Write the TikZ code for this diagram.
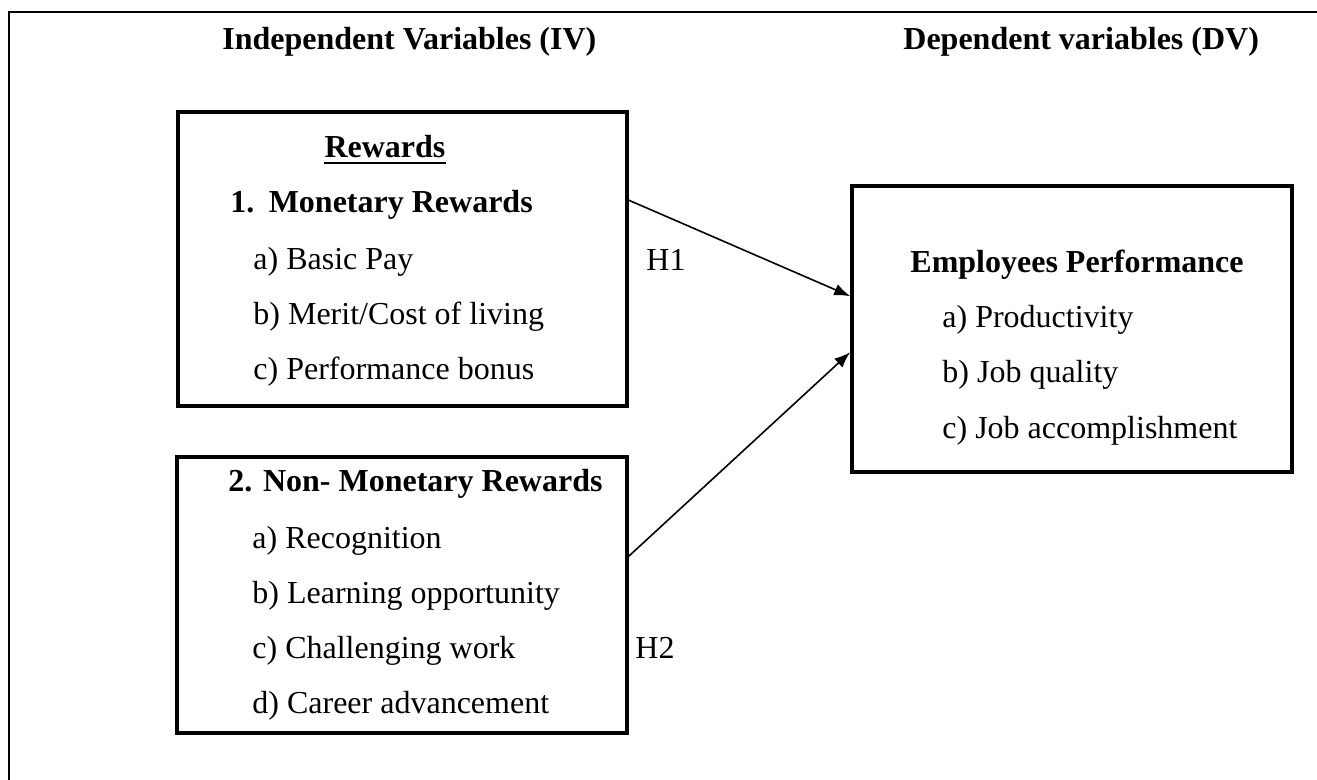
\documentclass[tikz,border=0pt]{standalone}
\usepackage{fontspec}
\setmainfont{Liberation Serif}
\usetikzlibrary{arrows.meta,calc}

\begin{document}
\begin{tikzpicture}[
  x=0.5pt, y=-0.5pt,
  every node/.style={font=\fontsize{16}{19}\selectfont, inner xsep=0pt, inner ysep=1pt},
  txt/.style={anchor=base west},
  hd/.style={anchor=base west, font=\fontsize{16}{19}\selectfont\bfseries},
  varbox/.style={draw, line width=1.8pt, rectangle, inner sep=0pt},
  link/.style={line width=0.8pt, -{Latex[length=8pt,width=6pt]}}
]
\useasboundingbox (0,0) rectangle (1317,780);

% outer frame (left and top edges)
\draw[line width=1pt] (9,780) -- (9,12) -- (1317,12);

% column headings
\node[hd] (ivhead) at (222,50) {Independent Variables (IV)};
\node[hd] (dvhead) at (903,50) {Dependent variables (DV)};

% boxes
\node[varbox, minimum width=224.5pt, minimum height=147pt] (box1) at (402.5,259) {};
\node[varbox, minimum width=225pt, minimum height=138pt] (box2) at (402,595) {};
\node[varbox, minimum width=220pt, minimum height=143pt] (box3) at (1072,329) {};

% monetary rewards
\node[anchor=base, font=\fontsize{16}{19}\selectfont\bfseries] (rew) at (385,158) {Rewards};
\draw[line width=0.8pt] ([yshift=-2.6pt]rew.base west) -- ([yshift=-2.6pt]rew.base east);
\node[hd] (mon) at (230,213) {1.\hspace{0.45em}Monetary Rewards};
\node[txt] (mona) at (253,270) {a) Basic Pay};
\node[txt] (monb) at (253,325) {b) Merit/Cost of living};
\node[txt] (monc) at (253,380) {c) Performance bonus};

% non-monetary rewards
\node[hd] (non) at (228,492) {2. Non- Monetary Rewards};
\node[txt] (nona) at (252,548) {a) Recognition};
\node[txt] (nonb) at (252,603) {b) Learning opportunity};
\node[txt] (nonc) at (252,658) {c) Challenging work};
\node[txt] (nond) at (252,713) {d) Career advancement};

% employees performance
\node[hd] (perf) at (910,273) {Employees Performance};
\node[txt] (perfa) at (942,328) {a) Productivity};
\node[txt] (perfb) at (942,383) {b) Job quality};
\node[txt] (perfc) at (942,438) {c) Job accomplishment};

% hypotheses
\node[txt] (h1) at (646,271) {H1};
\node[txt] (h2) at (635,658) {H2};

\draw[link] ($(box1.north east)+(0,90)$) -- ($(box3.north west)+(0,112)$);
\draw[link] ($(box2.north east)+(0,101)$) -- ($(box3.north west)+(0,168)$);
\end{tikzpicture}
\end{document}
